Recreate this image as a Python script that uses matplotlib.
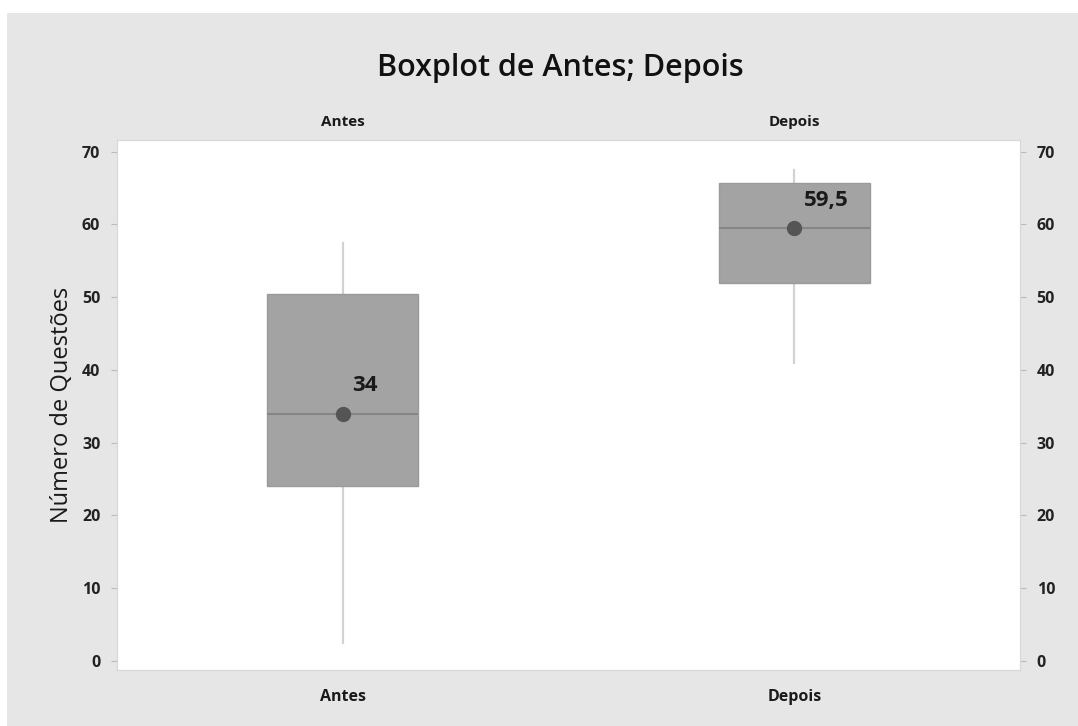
import matplotlib.pyplot as plt
import matplotlib.patches as mpatches

plt.rcParams['font.family'] = ['Open Sans', 'DejaVu Sans']

grupos = ["Antes", "Depois"]
minimos = [2.5, 41]
q1 = [24, 52]
medianas = [34, 59.5]
q3 = [50.5, 65.75]
maximos = [57.5, 67.5]
rotulos = ["34", "59,5"]

fig = plt.figure(figsize=(10.78, 7.26), dpi=100)
fig.patch.set_facecolor("white")
# fundo cinza estilo Minitab
fig.patches.append(mpatches.Rectangle((7 / 1078, 0), 1, 1 - 13 / 726, transform=fig.transFigure,
                                      facecolor="#e6e6e6", edgecolor="none", zorder=-10))

ax = fig.add_axes([117 / 1078, 1 - 670 / 726, 903 / 1078, 530 / 726])
ax.set_facecolor("white")

stats = []
for i in range(len(grupos)):
    stats.append(dict(label=grupos[i], whislo=minimos[i], q1=q1[i], med=medianas[i],
                      q3=q3[i], whishi=maximos[i], fliers=[]))

ax.bxp(stats, positions=[1, 2], widths=0.335, patch_artist=True, showcaps=False,
       boxprops=dict(facecolor="#a3a3a3", edgecolor="#9a9a9a", linewidth=1, zorder=3),
       medianprops=dict(color="#858585", linewidth=1.5, zorder=4),
       whiskerprops=dict(color="#d2d2d2", linewidth=1.6, zorder=2))

ax.plot([1, 2], medianas, "o", color="#555555", markersize=10, linestyle="none", zorder=5)
for i in range(len(grupos)):
    ax.annotate(rotulos[i], (i + 1, medianas[i]), xytext=(7, 16), textcoords="offset points",
                fontsize=16, fontweight="bold", color="#1a1a1a")

ax.set_xlim(0.5, 2.5)
ax.set_ylim(-1.24, 71.6)
ax.set_yticks(range(0, 80, 10))
ax.set_xticks([1, 2])
ax.set_xticklabels(grupos)

for s in ax.spines.values():
    s.set_color("#d8d8d8")
ax.tick_params(axis="y", colors="#bbbbbb", labelcolor="#222222", labelsize=11.5, length=4, pad=8)
ax.tick_params(axis="x", length=0, labelcolor="#1a1a1a", labelsize=11.5, pad=14)
for lab in ax.get_xticklabels() + ax.get_yticklabels():
    lab.set_fontweight("bold")

ax2 = ax.twinx()
ax2.set_ylim(ax.get_ylim())
ax2.set_yticks(range(0, 80, 10))
ax2.tick_params(axis="y", colors="#bbbbbb", labelcolor="#222222", labelsize=11.5, length=4, pad=8)
for lab in ax2.get_yticklabels():
    lab.set_fontweight("bold")
for s in ax2.spines.values():
    s.set_color("#d8d8d8")

top = ax.secondary_xaxis("top")
top.set_xticks([1, 2])
top.set_xticklabels(grupos)
top.tick_params(length=0, labelsize=11, labelcolor="#1a1a1a", pad=8)
for lab in top.get_xticklabels():
    lab.set_fontweight("bold")
top.spines["top"].set_visible(False)

ax.set_ylabel("Número de Questões", fontsize=17, color="#1a1a1a", labelpad=6)
fig.text(560 / 1078, 1 - 68 / 726, "Boxplot de Antes; Depois", ha="center", va="center",
         fontsize=22, fontweight="semibold", color="#111111")

fig.savefig("out.png", dpi=100)
